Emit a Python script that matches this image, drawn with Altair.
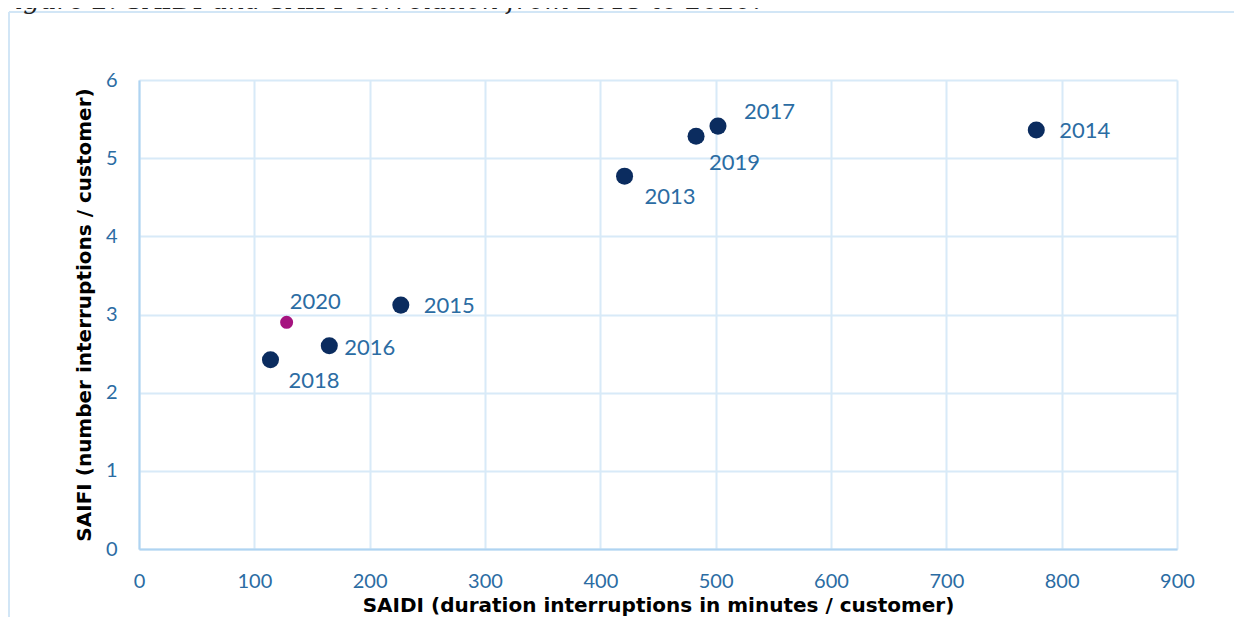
import altair as alt
import pandas as pd

years = ["2013", "2014", "2015", "2016", "2017", "2018", "2019", "2020"]
saidi = [421, 778, 227, 165, 502, 114, 483, 128]
saifi = [4.77, 5.36, 3.12, 2.60, 5.41, 2.42, 5.28, 2.90]
highlight = ["past", "past", "past", "past", "past", "past", "past", "current"]

x_ticks = [0, 100, 200, 300, 400, 500, 600, 700, 800, 900]
y_ticks = [0, 1, 2, 3, 4, 5, 6]

title_text = "Figure 2: SAIDI and SAIFI correlation from 2013 to 2020."
x_title = "SAIDI (duration interruptions in minutes / customer)"
y_title = "SAIFI (number interruptions / customer)"

# label placement (pixel offsets of each year label relative to its point)
label_offsets = {
    "2013": (20, 21), "2014": (23, 1), "2015": (23, 1), "2016": (15, 2),
    "2017": (26, -14), "2018": (18, 21), "2019": (13, 27), "2020": (3, -20),
}

df = pd.DataFrame({"year": years, "saidi": saidi, "saifi": saifi, "group": highlight})

LABEL_FONT = "Lato"
TITLE_FONT = "DejaVu Sans"
LABEL_COLOR = "#2B6CA3"
GRID = "#D8EAF8"
DOMAIN = "#AFD4F2"

x_enc = alt.X("saidi:Q", scale=alt.Scale(domain=[0, 900], nice=False),
              axis=alt.Axis(values=x_ticks, title=x_title, format="d",
                            labelPadding=22, titlePadding=4, labelFlush=False,
                            labelOverlap=False))
y_enc = alt.Y("saifi:Q", scale=alt.Scale(domain=[0, 6], nice=False),
              axis=alt.Axis(values=y_ticks, title=y_title, format="d",
                            labelPadding=22, titlePadding=11, labelFlush=False,
                            labelOverlap=False))

base = alt.Chart(df)

past_pts = base.transform_filter(alt.datum.group == "past").mark_point(
    filled=True, size=290, color="#0B2C5F", opacity=1
).encode(x=x_enc, y=y_enc)

cur_pts = base.transform_filter(alt.datum.group == "current").mark_point(
    filled=True, size=170, color="#A5137F", opacity=1
).encode(x="saidi:Q", y="saifi:Q")

labels = []
for yr in years:
    dx, dy = label_offsets[yr]
    labels.append(
        base.transform_filter(alt.datum.year == yr).mark_text(
            align="left", baseline="middle", dx=dx, dy=dy,
            font=LABEL_FONT, fontSize=22, color=LABEL_COLOR
        ).encode(x="saidi:Q", y="saifi:Q", text="year:N")
    )

one = alt.Data(values=[{"k": 1}])

border_top = alt.Chart(one).mark_rule(color="#D2E6F6", strokeWidth=2).encode(
    x=alt.value(-130), x2=alt.value(1300), y=alt.value(-68)
)
border_left = alt.Chart(one).mark_rule(color="#D2E6F6", strokeWidth=2).encode(
    x=alt.value(-130), y=alt.value(-68), y2=alt.value(700)
)
fig_title = alt.Chart(one).mark_text(
    align="left", baseline="alphabetic", font="DejaVu Serif", fontStyle="italic",
    fontSize=26, color="#222222"
).encode(x=alt.value(-142), y=alt.value(-71), text=alt.value(title_text))

chart = alt.layer(
    past_pts, cur_pts, *labels, border_top, border_left, fig_title
).properties(
    width=1038, height=469,
    autosize=alt.AutoSizeParams(type="none"),
    padding={"left": 131, "top": 72, "right": 57, "bottom": 68},
).configure_view(
    stroke=None
).configure_axis(
    grid=True, gridColor=GRID, gridWidth=2,
    domainColor=DOMAIN, domainWidth=2,
    ticks=False,
    labelFont=LABEL_FONT, labelFontSize=20, labelColor=LABEL_COLOR,
    titleFont=TITLE_FONT, titleFontSize=20, titleFontWeight="bold", titleColor="#000000",
)

chart.save("out.html", embed_options={"renderer": "svg", "actions": False})
